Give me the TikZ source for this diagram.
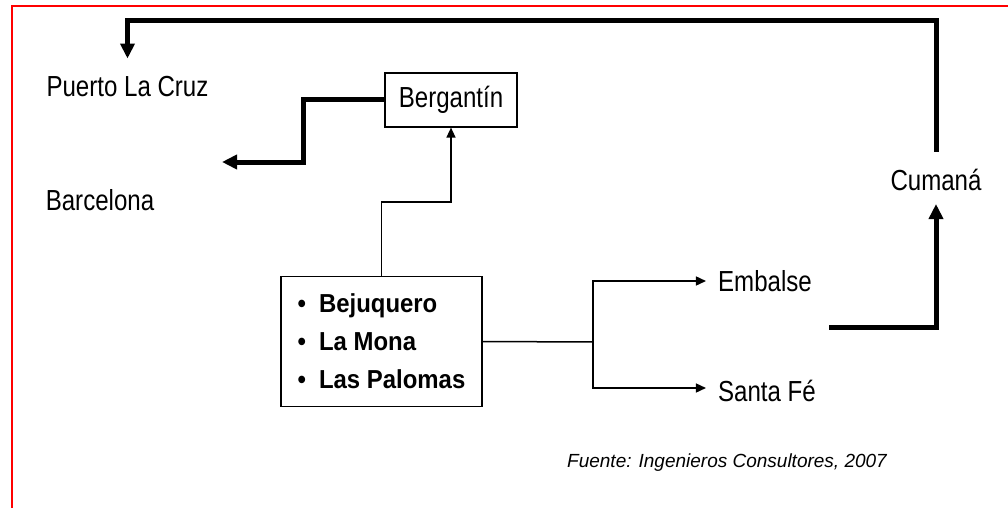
\documentclass[tikz,border=0pt]{standalone}
\usepackage{fontspec}
\setmainfont{Liberation Sans}
\newfontfamily\placefont{Liberation Sans}[FakeStretch=0.83]
\newfontfamily\listfont{Liberation Sans}[FakeStretch=0.92]
\usetikzlibrary{arrows.meta}

\begin{document}
\begin{tikzpicture}[x=1pt, y=-1pt,
    place/.style={font=\placefont\fontsize{29}{34}\selectfont, inner sep=0pt},
    thinline/.style={line width=1.5pt},
    thinarrow/.style={line width=1.5pt, -{Triangle[length=10pt, width=9pt]}},
    heavy/.style={line width=5pt, -{Triangle[length=15pt, width=14pt]}}]
    \useasboundingbox (0, 0) rectangle (1008, 508);

    % Frame (red)
    \draw[red, line width=1.5pt] (12, 508) -- (12, 6) -- (1008, 6);

    % Places
    \node[place] (puerto) at (127.5, 87) {Puerto La Cruz};
    \node[place] (barcelona) at (100, 200) {Barcelona};
    \node[place, draw, line width=1.2pt, minimum width=132pt, minimum height=54pt] (bergantin) at (451, 100) {Bergant\'{\i}n};
    \node[place] (cumana) at (936, 180) {Cuman\'a};
    \node[place] (embalse) at (765, 281) {Embalse};
    \node[place] (santafe) at (767, 391) {Santa F\'e};

    % Sources
    \node[draw, line width=1.2pt, minimum width=201pt, minimum height=130pt, align=left,
          font=\listfont\bfseries\fontsize{26}{38}\selectfont] (sources) at (381.5, 341.5)
        {\textbullet\hspace{13pt}Bejuquero\\ \textbullet\hspace{13pt}La Mona\\ \textbullet\hspace{13pt}Las Palomas};

    % Free ends
    \coordinate (barcelona in) at (222, 162);
    \coordinate (fork) at (593, 342);
    \coordinate (dam out) at (829, 327);

    % Thin connectors
    \draw[thinarrow] (sources.north) -- ++(0, -74) -| (bergantin.south);
    \draw[thinline] (sources.east) -- (fork);
    \draw[thinarrow] (fork) |- ([xshift=-12pt] embalse.west);
    \draw[thinarrow] (fork) |- ([xshift=-12pt, yshift=3pt] santafe.west);

    % Thick connectors
    \draw[heavy] (bergantin.west) -| (303, 162) -- (barcelona in);
    \draw[heavy] (dam out) -| ([yshift=-13pt] cumana.south);
    \draw[heavy] ([yshift=17pt] cumana.north) -- ++(0, -131) -| ([yshift=18pt] puerto.north);

    \node[font=\itshape\fontsize{19}{22}\selectfont] (source note) at (727, 463) {Fuente: Ingenieros Consultores, 2007};
\end{tikzpicture}
\end{document}
